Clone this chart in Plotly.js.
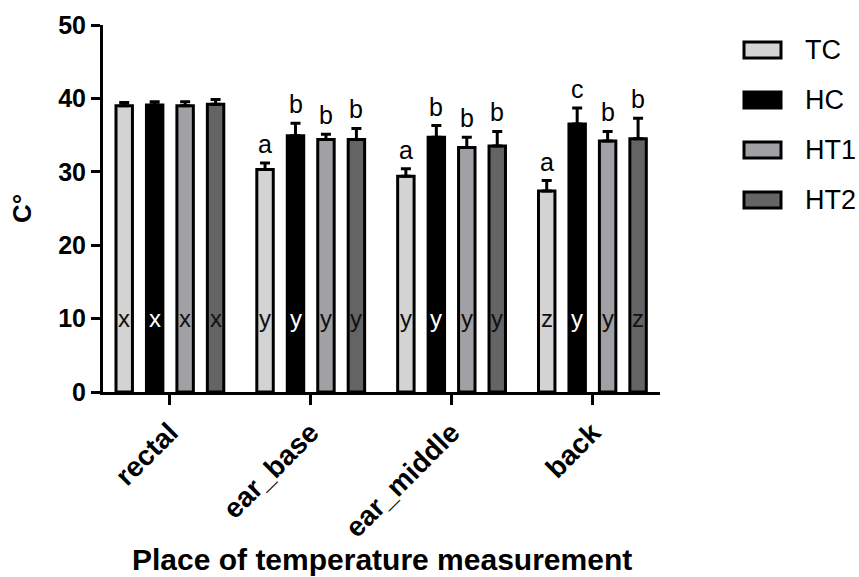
<!DOCTYPE html>
<html>
<head>
<meta charset="utf-8">
<script src="https://cdn.plot.ly/plotly-3.0.1.min.js"></script>
<style>html,body{margin:0;padding:0;background:#fff;}#chart{width:859px;height:577px;}</style>
</head>
<body>
<div id="chart"></div>
<script>
// ---- data ----
const categories = ['rectal', 'ear_base', 'ear_middle', 'back'];
const seriesNames = ['TC', 'HC', 'HT1', 'HT2'];
const meanTC  = [39.0, 30.3, 29.4, 27.4];
const meanHC  = [39.1, 34.9, 34.7, 36.5];
const meanHT1 = [39.0, 34.4, 33.3, 34.2];
const meanHT2 = [39.2, 34.4, 33.5, 34.5];
const errTC  = [0.45, 0.9, 1.0, 1.4];
const errHC  = [0.45, 1.7, 1.6, 2.2];
const errHT1 = [0.55, 0.7, 1.4, 1.3];
const errHT2 = [0.65, 1.5, 2.0, 2.8];
// significance letters above bars (between treatments)
const topTC  = ['', 'a', 'a', 'a'];
const topHC  = ['', 'b', 'b', 'c'];
const topHT1 = ['', 'b', 'b', 'b'];
const topHT2 = ['', 'b', 'b', 'b'];
// letters inside bars (between places)
const inTC  = ['x', 'y', 'y', 'z'];
const inHC  = ['x', 'y', 'y', 'y'];
const inHT1 = ['x', 'y', 'y', 'y'];
const inHT2 = ['x', 'y', 'y', 'z'];
const inLabelLevel = 10;
const yTickVals = [0, 10, 20, 30, 40, 50];

// ---- styles ----
const fills = ['#d3d3d3', '#000000', '#a1a1a5', '#646464'];
const inTextColors = ['#111111', '#ffffff', '#111111', '#111111'];
const means = [meanTC, meanHC, meanHT1, meanHT2];
const errs = [errTC, errHC, errHT1, errHT2];
const tops = [topTC, topHC, topHT1, topHT2];
const ins = [inTC, inHC, inHT1, inHT2];

const FONT = 'Liberation Sans, Arial, Helvetica, sans-serif';
const bargap = 0.135;
const bargroupgap = 0.46;

const traces = seriesNames.map((name, j) => ({
  type: 'bar',
  name: name,
  x: categories,
  y: means[j],
  marker: {color: fills[j], line: {color: '#000', width: 3}},
  error_y: {type: 'data', symmetric: false, array: errs[j], arrayminus: errs[j].map(() => 0),
            color: '#000', thickness: 3, width: 5},
  showlegend: false,
  hoverinfo: 'x+y'
}));

const annotations = [];
const nS = seriesNames.length;
const slot = (1 - bargap) / nS;
for (let j = 0; j < nS; j++) {
  for (let i = 0; i < categories.length; i++) {
    const xc = i + (j - (nS - 1) / 2) * slot;
    if (tops[j][i]) {
      annotations.push({x: xc, y: means[j][i] + errs[j][i], xref: 'x', yref: 'y',
        text: tops[j][i], showarrow: false, yanchor: 'bottom', yshift: 3,
        font: {family: FONT, size: 25, color: '#000'}});
    }
    annotations.push({x: xc, y: inLabelLevel, xref: 'x', yref: 'y',
      text: ins[j][i], showarrow: false, yanchor: 'middle',
      font: {family: FONT, size: 24, color: inTextColors[j]}});
  }
}

// custom legend (large keys)
const shapes = [];
const L = 103, R = 199, T = 25, B = 185, Wd = 859, Ht = 577;
const pw = Wd - L - R, ph = Ht - T - B;
const toPx = px => (px - L) / pw;
const toPy = py => (Ht - B - py) / ph;
seriesNames.forEach((name, j) => {
  const cy = 50 + 50 * j;
  shapes.push({type: 'rect', xref: 'paper', yref: 'paper',
    x0: toPx(744), x1: toPx(781), y0: toPy(cy + 8), y1: toPy(cy - 8),
    fillcolor: fills[j], line: {color: '#000', width: 3}});
  annotations.push({xref: 'paper', yref: 'paper', x: toPx(803), y: toPy(cy),
    xanchor: 'left', yanchor: 'middle', text: name, showarrow: false,
    font: {family: FONT, size: 27, color: '#000'}});
});

// x-axis title
annotations.push({xref: 'paper', yref: 'paper', x: 0.5, y: toPy(559),
  xanchor: 'center', yanchor: 'middle', text: 'Place of temperature measurement', showarrow: false,
  font: {family: FONT, size: 30, color: '#000', weight: 'bold'}});

const layout = {
  width: 859, height: 577,
  margin: {l: L, r: R, t: T, b: B, pad: 0},
  paper_bgcolor: '#fff', plot_bgcolor: '#fff',
  barmode: 'group', bargap: bargap, bargroupgap: bargroupgap,
  showlegend: false,
  font: {family: FONT, color: '#000'},
  xaxis: {
    type: 'category', range: [-0.475, 3.48], showline: true, linecolor: '#000', linewidth: 3,
    ticks: 'outside', ticklen: 10, tickwidth: 3, tickcolor: '#000',
    tickangle: -45, tickfont: {family: FONT, size: 28, color: '#000', weight: 'bold'},
    showgrid: false, zeroline: false, automargin: false, fixedrange: true
  },
  yaxis: {
    range: [0, 50], tickvals: yTickVals, showline: true, linecolor: '#000', linewidth: 3,
    ticks: 'outside', ticklen: 9, tickwidth: 3, tickcolor: '#000',
    tickfont: {family: FONT, size: 25, color: '#000', weight: 'bold'},
    showgrid: false, zeroline: false, automargin: false, fixedrange: true,
    title: {text: 'C°', standoff: 20, font: {family: FONT, size: 26, color: '#000', weight: 'bold'}}
  },
  shapes: shapes,
  annotations: annotations
};

Plotly.newPlot('chart', traces, layout, {displayModeBar: false, staticPlot: true});
</script>
</body>
</html>
